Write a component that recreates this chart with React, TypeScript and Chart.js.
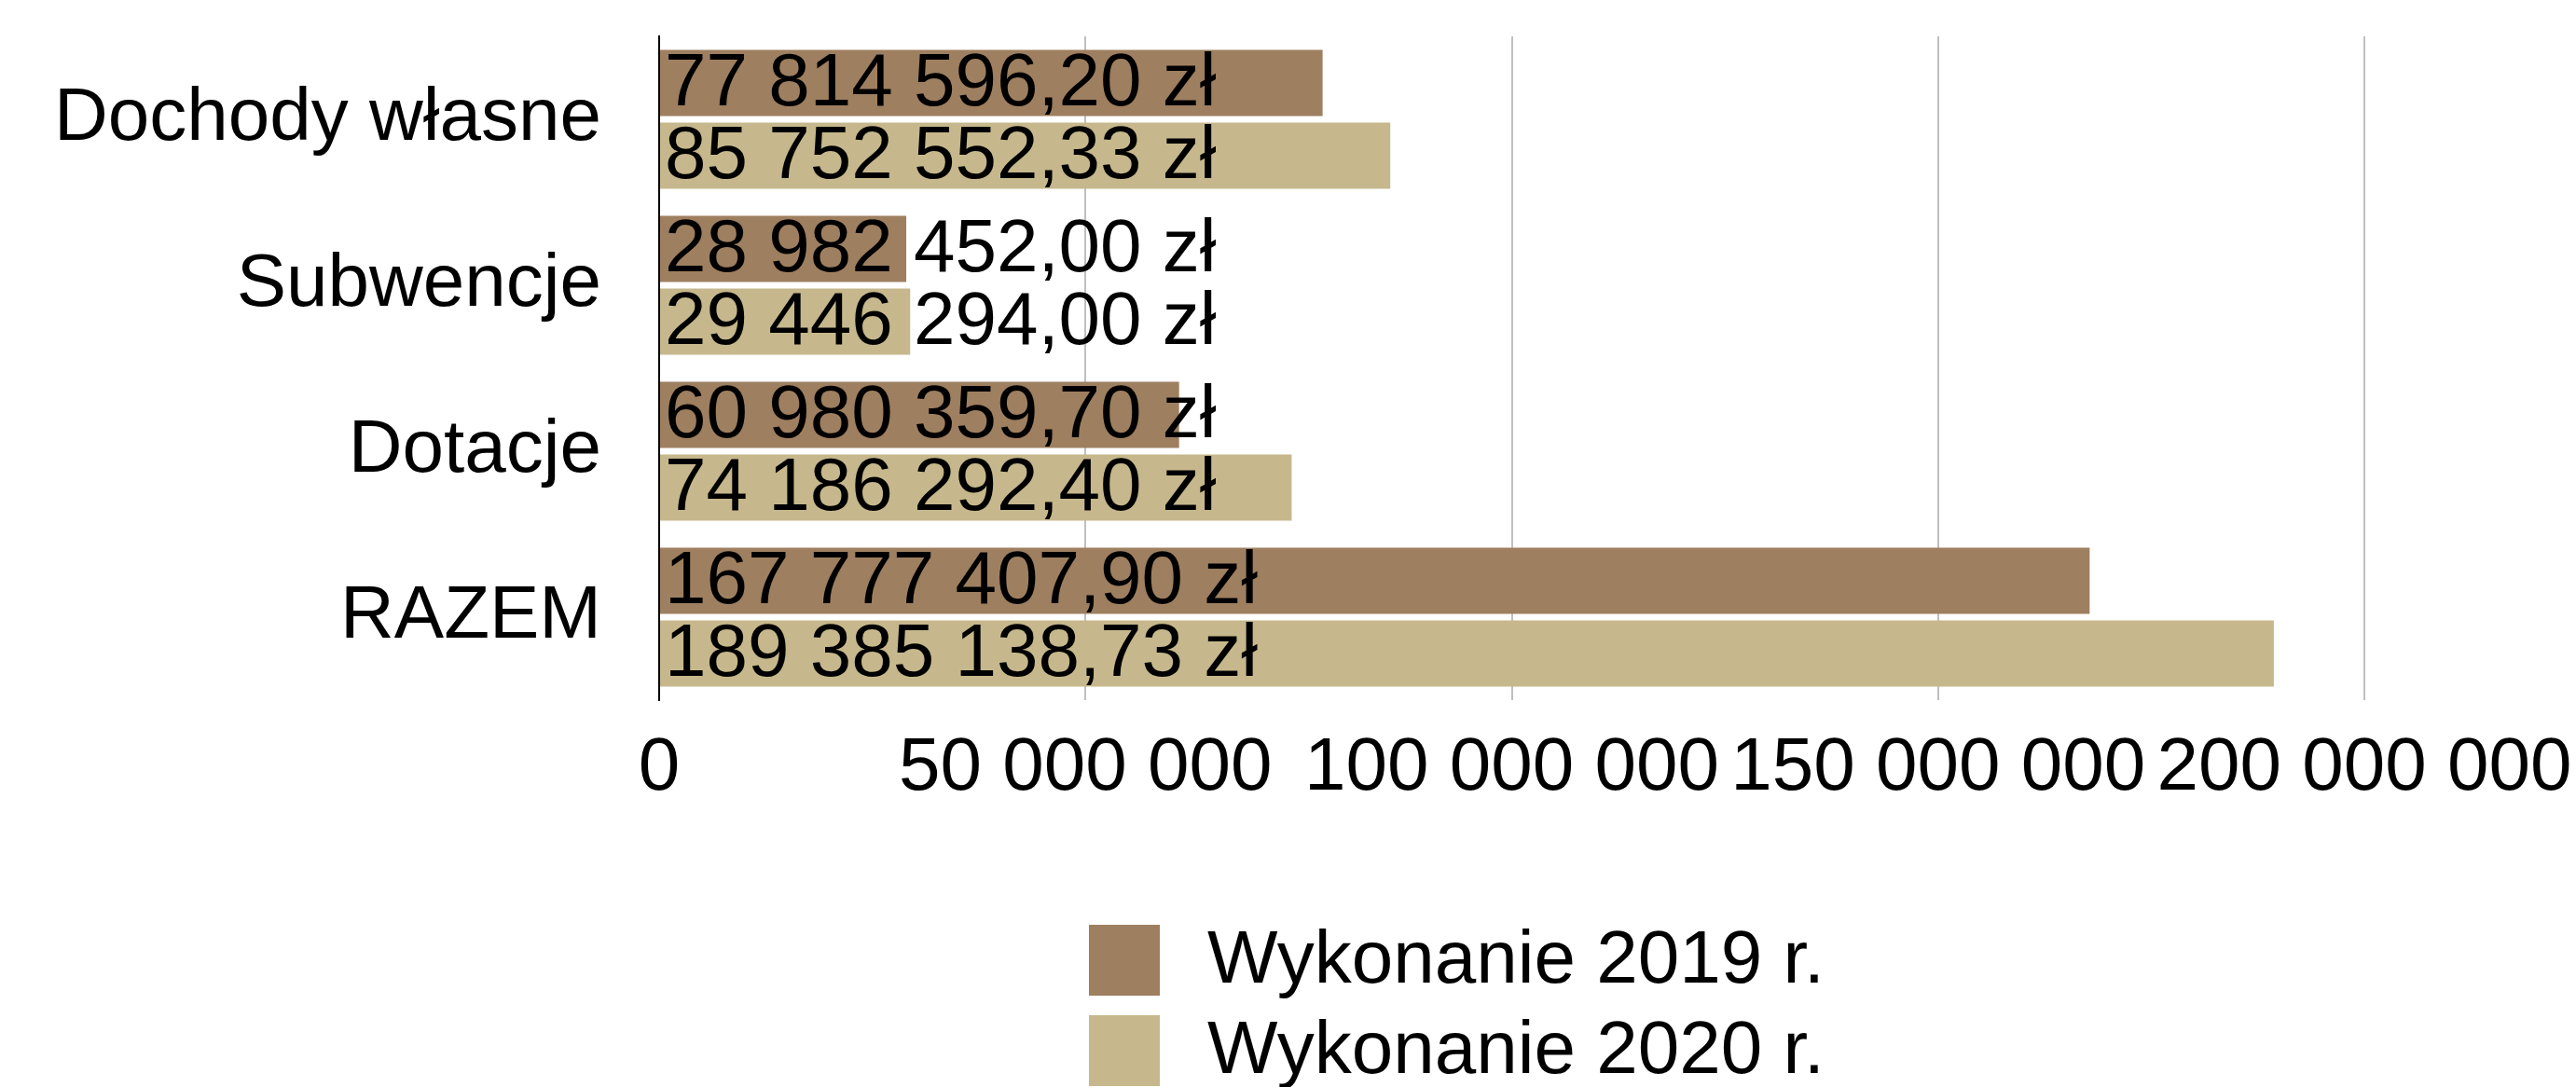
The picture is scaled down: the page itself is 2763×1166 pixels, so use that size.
import React, { useEffect, useRef } from "react";
import { Chart, registerables } from "chart.js";

Chart.register(...registerables);

const categories = ["Dochody własne", "Subwencje", "Dotacje", "RAZEM"];
const seriesLabels = ["Wykonanie 2019 r.", "Wykonanie 2020 r."];
const values2019 = [77814596.2, 28982452.0, 60980359.7, 167777407.9];
const values2020 = [85752552.33, 29446294.0, 74186292.4, 189385138.73];
const xTicks = [0, 50000000, 100000000, 150000000, 200000000];
const colors = ["#9E7F60", "#C6B88C"];

const FONT = "'Liberation Sans', Arial, Helvetica, sans-serif";

function groupDigits(s: string): string {
  return s.replace(/\B(?=(\d{3})+(?!\d))/g, " ");
}

function formatPLN(v: number): string {
  const [i, d] = v.toFixed(2).split(".");
  return groupDigits(i) + "," + d + " zł";
}

const dataLabelPlugin = {
  id: "dataLabels",
  afterDatasetsDraw(chart: any) {
    const ctx = chart.ctx;
    ctx.save();
    ctx.font = `80px ${FONT}`;
    ctx.fillStyle = "#000000";
    ctx.textAlign = "left";
    ctx.textBaseline = "middle";
    chart.data.datasets.forEach((ds: any, di: number) => {
      const meta = chart.getDatasetMeta(di);
      meta.data.forEach((el: any, i: number) => {
        const base = el.base;
        ctx.fillText(formatPLN(ds.data[i]), base + 5, el.y + 2);
      });
    });
    ctx.restore();
  },
};

const legendPlugin = {
  id: "stackedLegend",
  afterDraw(chart: any) {
    const ctx = chart.ctx;
    ctx.save();
    const boxX = 1168;
    const box = 76;
    const textX = 1295;
    const rowCenters = [1030, 1127];
    ctx.font = `80px ${FONT}`;
    ctx.textAlign = "left";
    ctx.textBaseline = "middle";
    chart.data.datasets.forEach((ds: any, i: number) => {
      const cy = rowCenters[i];
      ctx.fillStyle = ds.backgroundColor;
      ctx.fillRect(boxX, cy - box / 2, box, box);
      ctx.fillStyle = "#000000";
      ctx.fillText(ds.label, textX, cy + 2);
    });
    ctx.restore();
  },
};

export default function App() {
  const ref = useRef<HTMLCanvasElement | null>(null);
  useEffect(() => {
    if (!ref.current) return;
    const chart = new Chart(ref.current, {
      type: "bar",
      data: {
        labels: categories,
        datasets: [
          {
            label: seriesLabels[0],
            data: values2019,
            backgroundColor: colors[0],
            borderWidth: 0,
          },
          {
            label: seriesLabels[1],
            data: values2020,
            backgroundColor: colors[1],
            borderWidth: 0,
          },
        ],
      },
      options: {
        indexAxis: "y",
        animation: false,
        responsive: true,
        maintainAspectRatio: false,
        datasets: {
          bar: {
            categoryPercentage: 0.876,
            barPercentage: 0.91,
          },
        },
        layout: {
          padding: { top: 39, left: 0, right: 227, bottom: 293 },
        },
        plugins: {
          legend: { display: false },
          tooltip: { enabled: false },
          title: { display: false },
        },
        scales: {
          x: {
            type: "linear",
            min: 0,
            max: 200000000,
            afterBuildTicks: (scale: any) => {
              scale.ticks = xTicks.map((v) => ({ value: v }));
            },
            afterFit: (scale: any) => {
              scale.height = 122;
              scale.paddingLeft = 0;
              scale.paddingRight = 0;
            },
            ticks: {
              color: "#000000",
              font: { family: FONT, size: 80 },
              padding: 26,
              maxRotation: 0,
              autoSkip: false,
              callback: (v: any) => groupDigits(String(Math.round(Number(v)))),
            },
            grid: {
              display: true,
              color: "#BFBFBF",
              lineWidth: 2,
              drawTicks: false,
            },
            border: { display: false },
          },
          y: {
            type: "category",
            afterFit: (scale: any) => {
              scale.width = 707;
              scale.paddingTop = 0;
              scale.paddingBottom = 0;
            },
            ticks: {
              color: "#000000",
              font: { family: FONT, size: 80 },
              padding: 62,
            },
            grid: { display: false, drawTicks: false },
            border: { display: true, color: "#000000", width: 2 },
          },
        },
      },
      plugins: [dataLabelPlugin, legendPlugin],
    });
    return () => chart.destroy();
  }, []);

  return (
    <div
      style={{
        position: "absolute",
        left: 0,
        top: 0,
        width: "2763px",
        height: "1166px",
        background: "#ffffff",
      }}
    >
      <canvas ref={ref} />
    </div>
  );
}
